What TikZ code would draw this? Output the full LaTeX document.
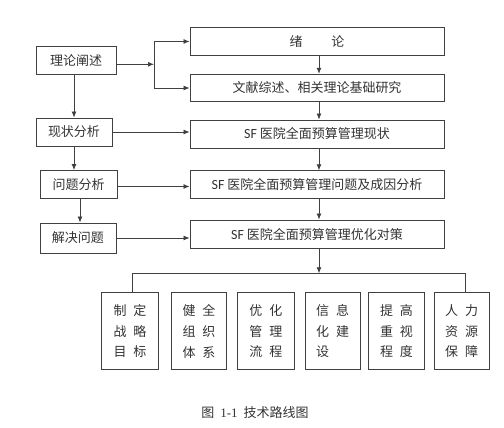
\documentclass[tikz,border=0pt]{standalone}
\usepackage{fontspec}
\usetikzlibrary{arrows.meta,calc}
\newfontfamily\cjk{Noto Sans CJK SC}
\newfontfamily\lat{Carlito}
\newfontfamily\tms{Liberation Serif}
\definecolor{ln}{HTML}{404040}
\definecolor{tx}{HTML}{333333}
\tikzset{
  box/.style={draw=ln, line width=0.9pt, rectangle, inner sep=0pt, text=tx, font=\cjk\fontsize{13}{15}\selectfont},
  lbox/.style={box, minimum height=28pt},
  rbox/.style={box, minimum width=254pt, minimum height=27.5pt},
  vbox/.style={box, minimum height=77pt, align=left, font=\cjk\fontsize{13}{20.7}\selectfont},
  arr/.style={draw=ln, line width=0.8pt, -{Latex[length=6pt,width=5pt]}},
  ln/.style={draw=ln, line width=0.8pt}
}
\newcommand{\gp}{\hspace{7pt}}
\begin{document}
\begin{tikzpicture}[x=1pt,y=-1pt]
\useasboundingbox (0,0) rectangle (504,428);
% left column
\node[lbox, minimum width=80pt] (a1) at (76,60.3) {理论阐述};
\node[lbox, minimum width=76pt] (a2) at (74,132) {现状分析};
\node[lbox, minimum width=77pt] (a3) at (78.5,184.5) {问题分析};
\node[lbox, minimum width=76pt, minimum height=30pt] (a4) at (78,238) {解决问题};
% right column
\node[rbox] (b1) at (317,41.5) {绪\hspace{29pt}论};
\node[rbox] (b2) at (317,88) {文献综述、相关理论基础研究};
\node[rbox, minimum height=28pt] (b3) at (317,134) {{\lat\fontsize{14}{15}\selectfont SF} 医院全面预算管理现状};
\node[rbox] (b4) at (317,184.5) {{\lat\fontsize{14}{15}\selectfont SF} 医院全面预算管理问题及成因分析};
\node[rbox, minimum height=28pt] (b5) at (317,234) {{\lat\fontsize{14}{15}\selectfont SF} 医院全面预算管理优化对策};
% bottom boxes
\node[vbox, minimum width=57.4pt] (c1) at (130,331.3) {制\gp 定\\战\gp 略\\目\gp 标};
\node[vbox, minimum width=55.4pt] (c2) at (199,331.3) {健\gp 全\\组\gp 织\\体\gp 系};
\node[vbox, minimum width=57pt] (c3) at (265.8,331.3) {优\gp 化\\管\gp 理\\流\gp 程};
\node[vbox, minimum width=54.7pt] (c4) at (332.7,331.3) {信\gp 息\\化\gp 建\\设};
\node[vbox, minimum width=55.6pt] (c5) at (396.5,331.3) {提\gp 高\\重\gp 视\\程\gp 度};
\node[vbox, minimum width=55.3pt] (c6) at (461.7,331.3) {人\gp 力\\资\gp 源\\保\gp 障};
% caption
\node[text=tx, font=\cjk\fontsize{13}{15}\selectfont] (cap) at (255,413) {图\hspace{6pt}{\tms 1-1}\hspace{6pt}技术路线图};
% connectors left
\coordinate (br) at (154,64.3);
\draw[arr] (a1.east |- br) -- (br);
\draw[arr] (br) |- (b1.west);
\draw[arr] (br) |- (b2.west);
\draw[arr] (a2.north |- a1.south) -- (a2.north);
\draw[arr] (a2.south) -- (a2.south |- a3.north);
\draw[arr] ([xshift=1.5pt]a3.south) -- ([xshift=1.5pt]a3.south |- a4.north);
\draw[arr] (a2.east) -- (a2.east -| b3.west);
\draw[arr] ([yshift=-2pt]a3.east) -- ([yshift=-2pt]a3.east -| b4.west);
\draw[arr] (a4.east) -- (a4.east -| b5.west);
% connectors right
\draw[arr] ([xshift=2pt]b1.south) -- ([xshift=2pt]b2.north);
\draw[arr] ([xshift=2pt]b2.south) -- ([xshift=2pt]b3.north);
\draw[arr] ([xshift=2pt]b3.south) -- ([xshift=2pt]b4.north);
\draw[arr] ([xshift=2pt]b4.south) -- ([xshift=2pt]b5.north);
\coordinate (bar) at (319,273.3);
\draw[arr] ([xshift=2pt]b5.south) -- (bar);
\draw[ln] ([xshift=2.3pt]c1.north) |- (bar) -| ([xshift=3.3pt]c6.north);
\end{tikzpicture}
\end{document}
